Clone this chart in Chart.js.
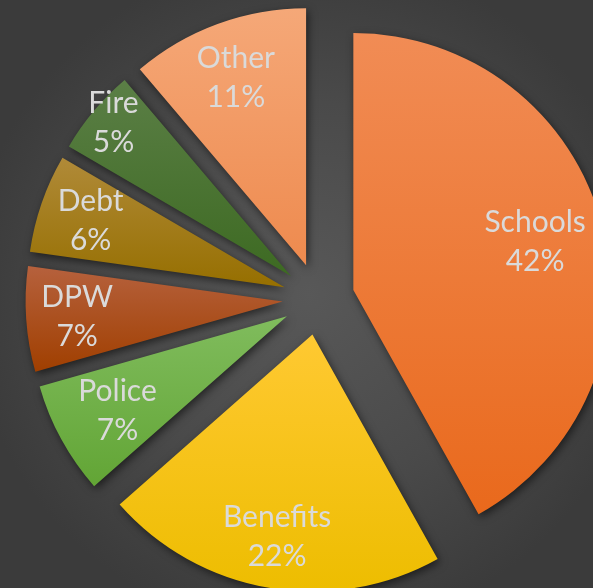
<!DOCTYPE html>
<html>
<head>
<meta charset="utf-8">
<script src="https://cdn.jsdelivr.net/npm/chart.js@4.4.1/dist/chart.umd.min.js"></script>
<style>
  html, body {
    margin: 0;
    padding: 0;
    overflow: hidden;
  }
  body {
    width: 593px;
    height: 588px;
    background: radial-gradient(circle at 52% 50%, #585858 0%, #4a4a4a 45%, #3b3b3b 80%);
  }
  #wrap {
    position: relative;
    width: 593px;
    height: 588px;
  }
</style>
</head>
<body>
<div id="wrap"><canvas id="pie"></canvas></div>
<script>
// budget split, in percent of total
const categories = ['Schools', 'Benefits', 'Police', 'DPW', 'Debt', 'Fire', 'Other'];
const spending = [41.9, 21.6, 7.1, 6.6, 6.2, 5.4, 11.2];

// [top, bottom] of each slice's fill
const sliceColors = [
  ['#f18c55', '#e9691c'],
  ['#ffc932', '#edbd00'],
  ['#80bc5d', '#62a535'],
  ['#b6613d', '#a03f00'],
  ['#b08a38', '#966f00'],
  ['#5b7f46', '#3d6a22'],
  ['#f5a878', '#ee8a4e'],
];

// label placement around the pie centre: angle (deg, clockwise from 12 o'clock) and distance (px)
const labelAngle = [75.2, 189.9, 240.9, 265.7, 289.0, 310.6, 339.5];
const labelDist = [224, 241, 230, 242, 241, 270, 236];

const RADIUS = 257;
const EXPLODE = 36;

function sliceAngles(i) {
  const total = spending.reduce((a, b) => a + b, 0);
  let before = 0;
  for (let k = 0; k < i; k++) before += spending[k];
  const a0 = -Math.PI / 2 + 2 * Math.PI * before / total;
  const a1 = a0 + 2 * Math.PI * spending[i] / total;
  return [a0, a1];
}

function sliceGradient(context) {
  const chart = context.chart;
  const area = chart.chartArea;
  const i = context.dataIndex;
  const [top, bottom] = sliceColors[i];
  if (!area) return top;
  const [a0, a1] = sliceAngles(i);
  const mid = (a0 + a1) / 2;
  const cy = (area.top + area.bottom) / 2 + Math.sin(mid) * EXPLODE;
  const ys = [cy, cy + RADIUS * Math.sin(a0), cy + RADIUS * Math.sin(a1)];
  [-Math.PI / 2, Math.PI / 2, 3 * Math.PI / 2].forEach((ext) => {
    if (ext >= a0 && ext <= a1) ys.push(cy + RADIUS * Math.sin(ext));
  });
  const g = chart.ctx.createLinearGradient(0, Math.min(...ys), 0, Math.max(...ys));
  g.addColorStop(0, top);
  g.addColorStop(1, bottom);
  return g;
}

// pull every slice out by the same distance, keeping its radius, and add a soft shadow
const explode = {
  id: 'explode',
  beforeDatasetDraw(chart, args) {
    args.meta.data.forEach((arc) => {
      const mid = (arc.startAngle + arc.endAngle) / 2;
      arc._home = [arc.x, arc.y];
      arc.x += Math.cos(mid) * EXPLODE;
      arc.y += Math.sin(mid) * EXPLODE;
    });
    const ctx = chart.ctx;
    ctx.save();
    ctx.shadowColor = 'rgba(0, 0, 0, 0.55)';
    ctx.shadowBlur = 9;
    ctx.shadowOffsetX = 2;
    ctx.shadowOffsetY = 3;
  },
  afterDatasetDraw(chart, args) {
    chart.ctx.restore();
    args.meta.data.forEach((arc) => {
      arc.x = arc._home[0];
      arc.y = arc._home[1];
    });
  },
};

const sliceLabels = {
  id: 'sliceLabels',
  afterDatasetsDraw(chart) {
    const ctx = chart.ctx;
    const meta = chart.getDatasetMeta(0);
    const total = spending.reduce((a, b) => a + b, 0);
    ctx.save();
    ctx.fillStyle = '#dadada';
    ctx.font = '30px Lato, "Open Sans", sans-serif';
    ctx.textAlign = 'center';
    ctx.textBaseline = 'middle';
    meta.data.forEach((arc, i) => {
      const a = labelAngle[i] * Math.PI / 180;
      const x = arc.x + Math.sin(a) * labelDist[i];
      const y = arc.y - Math.cos(a) * labelDist[i];
      const pct = Math.round(spending[i] / total * 100) + '%';
      ctx.fillText(categories[i], x, y - 19.5);
      ctx.fillText(pct, x, y + 19.5);
    });
    ctx.restore();
  },
};

new Chart(document.getElementById('pie'), {
  type: 'pie',
  data: {
    labels: categories,
    datasets: [{
      data: spending,
      backgroundColor: sliceGradient,
      borderWidth: 0,
      offset: 0,
      radius: RADIUS,
    }],
  },
  options: {
    responsive: true,
    maintainAspectRatio: false,
    animation: false,
    layout: {
      padding: { left: 44, top: 10, right: 0, bottom: 0 },
    },
    plugins: {
      legend: { display: false },
      tooltip: { enabled: false },
    },
    events: [],
  },
  plugins: [explode, sliceLabels],
});
</script>
</body>
</html>
